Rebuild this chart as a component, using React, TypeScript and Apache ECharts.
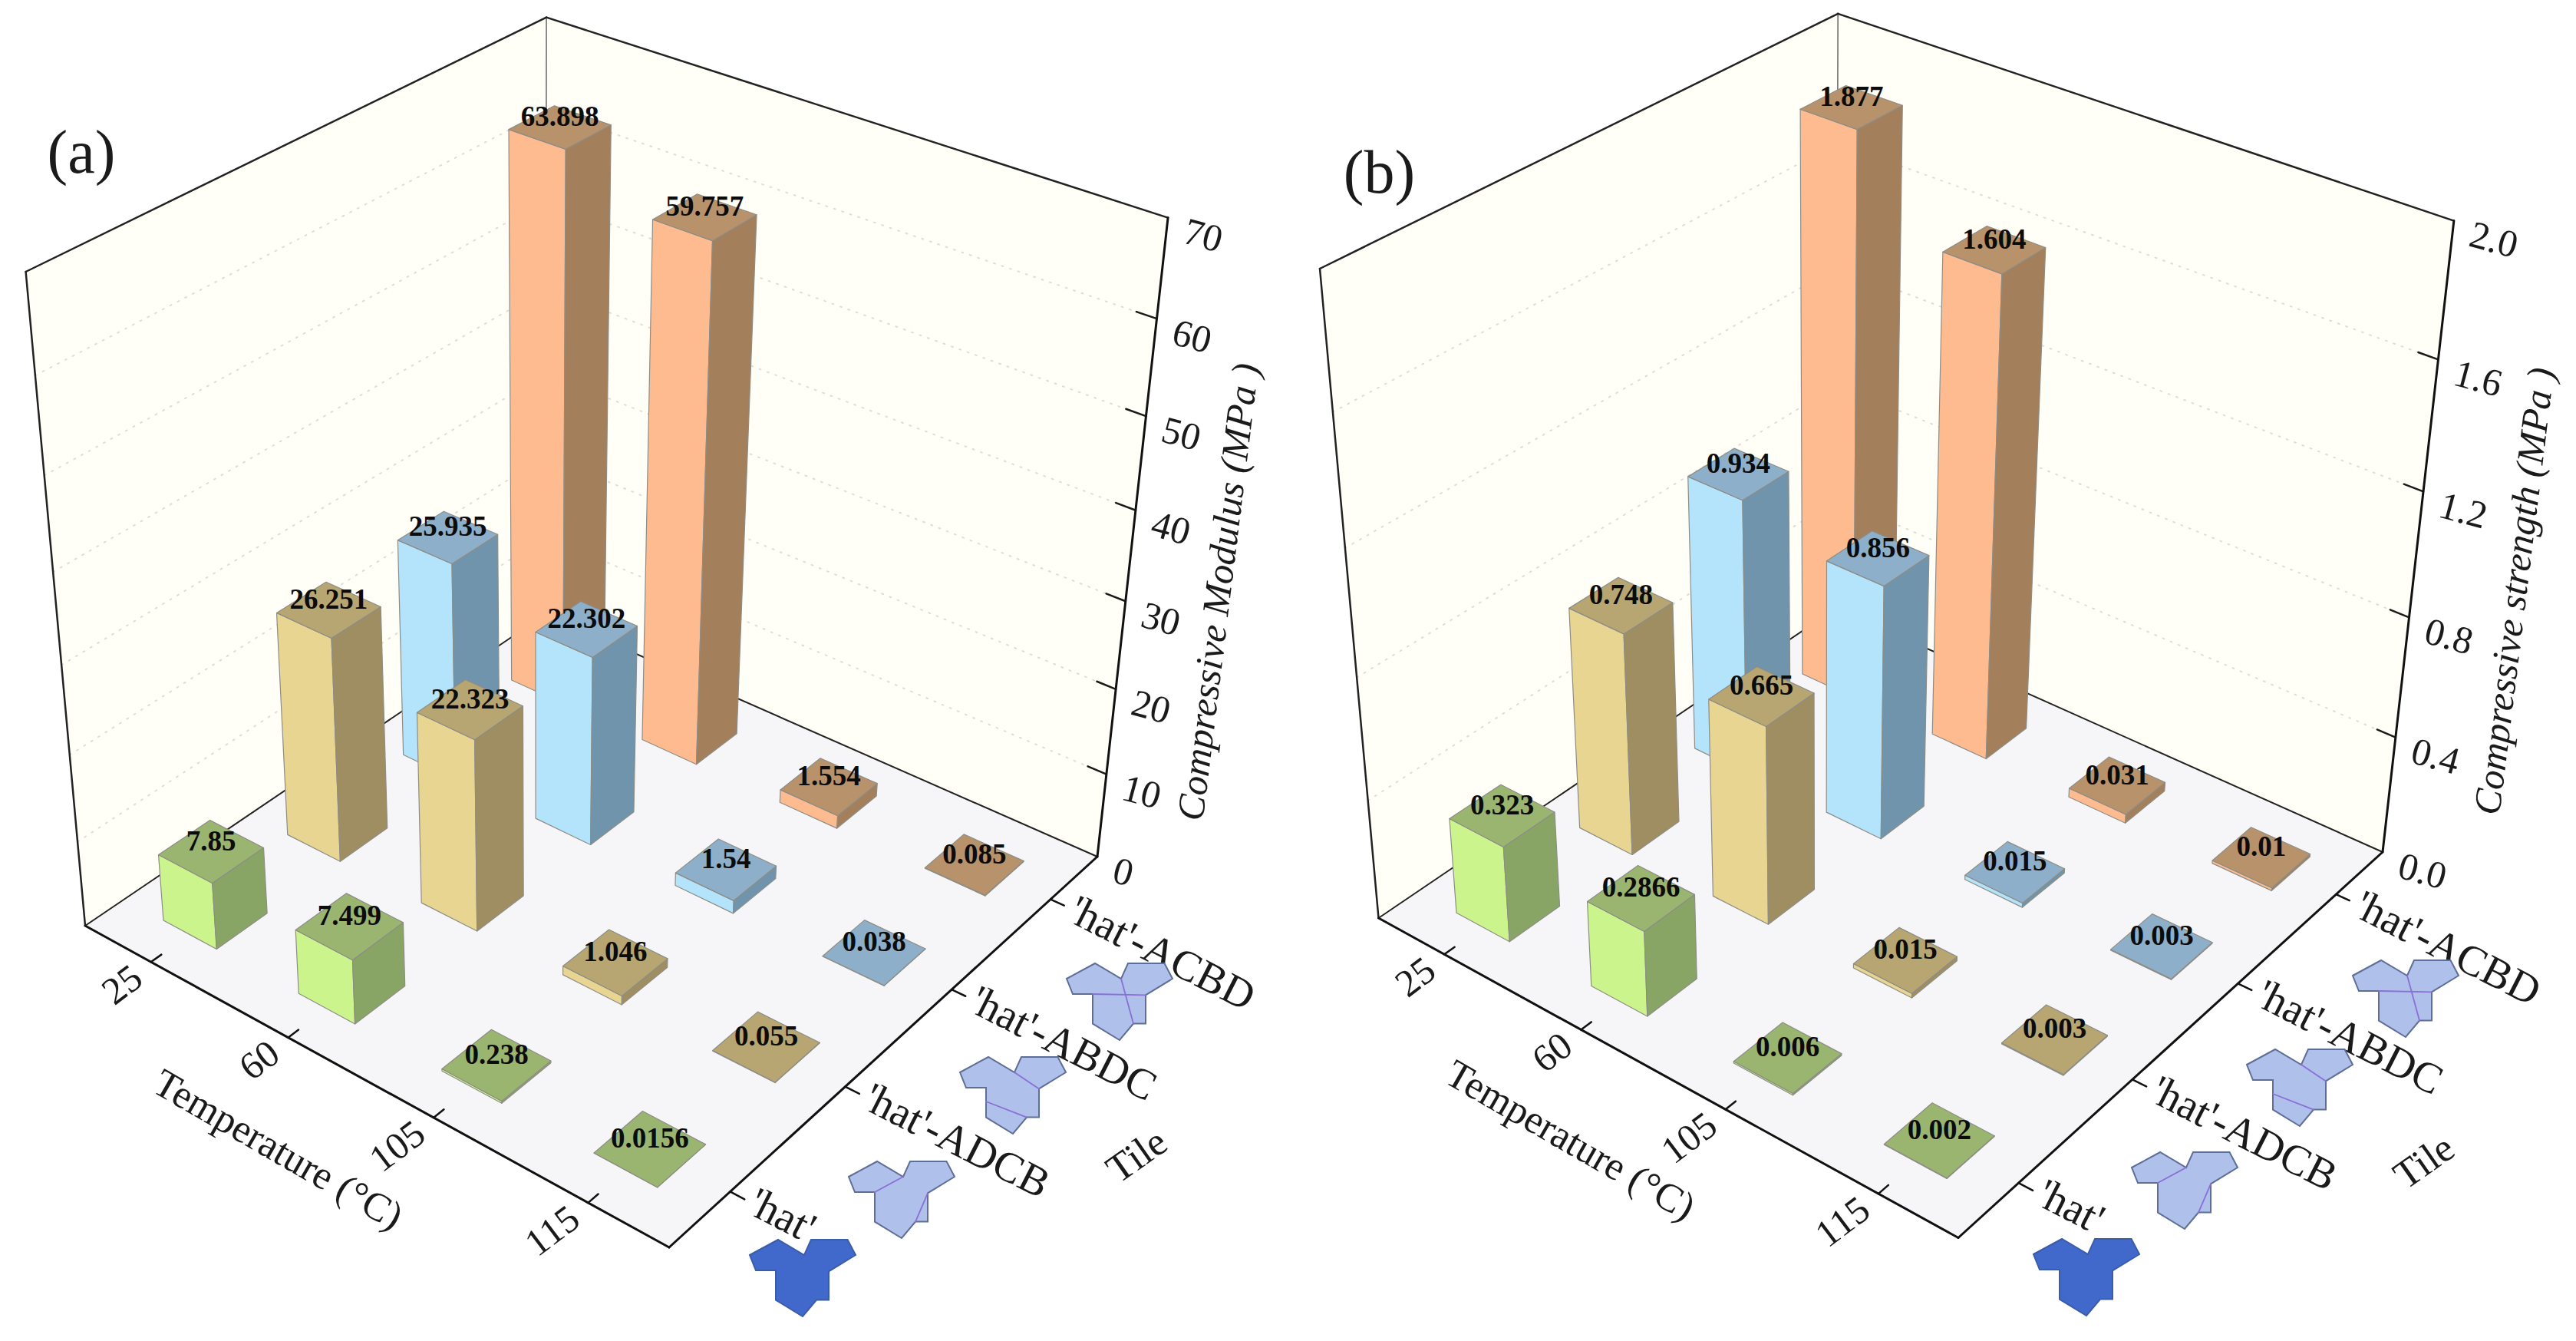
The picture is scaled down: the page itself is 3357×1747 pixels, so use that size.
import React, { useEffect, useRef } from "react";
import * as echarts from "echarts";

const temperatures = ["25", "60", "105", "115"];
const tiles = ["'hat'", "'hat'-ADCB", "'hat'-ABDC", "'hat'-ACBD"];

const modulusHat = [7.85, 7.499, 0.238, 0.0156];
const modulusAdcb = [26.251, 22.323, 1.046, 0.055];
const modulusAbdc = [25.935, 22.302, 1.54, 0.038];
const modulusAcbd = [63.898, 59.757, 1.554, 0.085];

const strengthHat = [0.323, 0.2866, 0.006, 0.002];
const strengthAdcb = [0.748, 0.665, 0.015, 0.003];
const strengthAbdc = [0.934, 0.856, 0.015, 0.003];
const strengthAcbd = [1.877, 1.604, 0.031, 0.01];

const modulusTicks = ["0", "10", "20", "30", "40", "50", "60", "70"];
const strengthTicks = ["0.0", "0.4", "0.8", "1.2", "1.6", "2.0"];

const SERIF = "'Liberation Serif', 'Times New Roman', serif";
const FACE_LIGHT = ["#CBF58C", "#E8D591", "#B3E4FB", "#FFBB90"];
const FACE_DARK = ["#89A566", "#A08E63", "#7094AB", "#A47F5B"];
const FACE_TOP = ["#9AB570", "#B7A672", "#8EAFC9", "#B8926A"];
const HALF = 0.05;

type P = [number, number];
type Layout = {
  A: P; B: P; C: P; D: P; Ap: P; Cp: P;
  letter: string; letterAt: P;
  zTitle: string; zTitleAt: P;
  xTitleAt: P; tileTitleAt: P;
  icons: P[];
  zMax: number; zTicks: string[];
  rows: number[][];
};

const layoutA: Layout = {
  A: [111, 1206], B: [872, 1625], C: [1430, 1116], D: [711, 800], Ap: [33.6, 354], Cp: [1522, 284],
  letter: "(a)", letterAt: [106, 198],
  zTitle: "Compressive Modulus (MPa )", zTitleAt: [1587, 771],
  xTitleAt: [363, 1497], tileTitleAt: [1481, 1505],
  icons: [[1046, 1665], [1175, 1563], [1320, 1427], [1459, 1305]],
  zMax: 70, zTicks: modulusTicks,
  rows: [modulusHat, modulusAdcb, modulusAbdc, modulusAcbd],
};
const layoutB: Layout = {
  A: [1796.5, 1196], B: [2552, 1612.5], C: [3105, 1110], D: [2393, 792], Ap: [1720, 350], Cp: [3198.5, 282],
  letter: "(b)", letterAt: [1797.5, 224],
  zTitle: "Compressive strength (MPa )", zTitleAt: [3276, 770],
  xTitleAt: [2047, 1485], tileTitleAt: [3158.6, 1513],
  icons: [[2719, 1664], [2847, 1551], [2997, 1417], [3135, 1301]],
  zMax: 2, zTicks: strengthTicks,
  rows: [strengthHat, strengthAdcb, strengthAbdc, strengthAcbd],
};

// Hat outline around its centre, with the seams of each rearranged tile.
const HAT: P[] = [[-69, -30], [-32, -50], [2, -30], [11, -50], [58.5, -50], [69, -30], [34, -8.6], [34, 28.6], [18, 28.6], [0, 50], [-35, 28.6], [-35, -10], [-61, -10]];
const SEAMS: P[][][] = [
  [],
  [[HAT[11], HAT[2]], [HAT[6], HAT[8]]],
  [[HAT[2], HAT[6]], [[-35, 8], HAT[8]]],
  [[HAT[2], HAT[8]], [[-35, -10], HAT[6]]],
];

function makeProjector(l: Layout) {
  const { A, B, C, D, Ap, Cp } = l;
  const dx1 = B[0] - C[0], dx2 = D[0] - C[0], dx3 = A[0] - B[0] + C[0] - D[0];
  const dy1 = B[1] - C[1], dy2 = D[1] - C[1], dy3 = A[1] - B[1] + C[1] - D[1];
  const den = dx1 * dy2 - dx2 * dy1;
  const g = (dx3 * dy2 - dx2 * dy3) / den;
  const h = (dx1 * dy3 - dx3 * dy1) / den;
  const ax = B[0] - A[0] + g * B[0], bx = D[0] - A[0] + h * D[0];
  const ay = B[1] - A[1] + g * B[1], by = D[1] - A[1] + h * D[1];
  const sL = (A[0] - Ap[0]) / (A[1] - Ap[1]);
  const sR = (C[0] - Cp[0]) / (C[1] - Cp[1]);
  const vy = (C[0] - sR * C[1] - A[0] + sL * A[1]) / (sL - sR);
  const vx = A[0] + sL * (vy - A[1]);
  const i = (Ap[1] - A[1]) / (vy - Ap[1]);
  const cx = i * vx, cy = i * vy;
  return (x: number, y: number, z: number): P => {
    const w = 1 + g * x + h * y + i * z;
    return [(A[0] + ax * x + bx * y + cx * z) / w, (A[1] + ay * x + by * y + cy * z) / w];
  };
}

const rad = (d: number) => (d * Math.PI) / 180;
const mid = (k: number, n: number) => (k + 0.5) / n;

function label(text: string, at: P, size: number, rot: number, align = "center", extra: any = {}) {
  return {
    type: "text", x: at[0], y: at[1], rotation: rad(rot), silent: true,
    style: { text, x: 0, y: 0, fill: "#1a1a1a", font: `${extra.style || ""} ${extra.weight || ""} ${size}px ${SERIF}`, textAlign: align, textVerticalAlign: "middle" },
  };
}

function frameSeries(l: Layout) {
  const pr = makeProjector(l);
  return {
    type: "custom", coordinateSystem: "cartesian2d", z: 1, clip: false, silent: true,
    data: [[0, 0]],
    renderItem: (_: any, api: any) => {
      const c = (x: number, y: number, z: number) => api.coord(pr(x, y, z));
      const poly = (pts: P[], fill: string) => ({ type: "polygon", shape: { points: pts }, style: { fill, stroke: "none" } });
      const seg = (a: P, b: P, color: string, w: number, dash?: number[]) => ({
        type: "line", shape: { x1: a[0], y1: a[1], x2: b[0], y2: b[1] },
        style: { stroke: color, lineWidth: w, lineDash: dash, lineCap: "round" },
      });
      const kids: any[] = [
        poly([c(0, 0, 0), c(0, 1, 0), c(0, 1, 1), c(0, 0, 1)], "#FFFEF7"),
        poly([c(0, 1, 0), c(1, 1, 0), c(1, 1, 1), c(0, 1, 1)], "#FFFEF7"),
        poly([c(0, 0, 0), c(1, 0, 0), c(1, 1, 0), c(0, 1, 0)], "#F6F6F8"),
      ];
      const n = l.zTicks.length - 1;
      l.zTicks.forEach((t, k) => {
        const z = k / n;
        if (k > 0 && k < n) {
          kids.push(seg(c(0, 0, z), c(0, 1, z), "#DEDED6", 2, [2, 9]));
          kids.push(seg(c(0, 1, z), c(1, 1, z), "#DEDED6", 2, [2, 9]));
          kids.push(seg(c(1, 1, z), c(0.97, 1, z), "#1a1a1a", 2.5));
        }
        const p = c(1, 1, z);
        kids.push(label(t, [p[0] + 22, p[1] + 16], 50, -15, "left"));
      });
      kids.push(seg(c(0, 0, 0), c(0, 1, 0), "#222", 2));
      kids.push(seg(c(0, 1, 0), c(1, 1, 0), "#222", 2));
      kids.push(seg(c(0, 1, 0), c(0, 1, 1), "#666", 1.5));
      kids.push(seg(c(0, 0, 1), c(0, 1, 1), "#222", 2.5));
      kids.push(seg(c(0, 1, 1), c(1, 1, 1), "#222", 2.5));
      kids.push(seg(c(0, 0, 0), c(0, 0, 1), "#222", 2.5));
      kids.push(seg(c(1, 1, 0), c(1, 1, 1), "#111", 3));
      kids.push(seg(c(0, 0, 0), c(1, 0, 0), "#111", 3));
      kids.push(seg(c(1, 0, 0), c(1, 1, 0), "#111", 3));
      temperatures.forEach((t, k) => {
        const x = mid(k, temperatures.length);
        const p = c(x, 0, 0);
        kids.push(seg(p, c(x, 0.02, 0), "#111", 2.5));
        kids.push(label(t, [p[0] - 18, p[1] + 14], 50, 37, "right"));
      });
      tiles.forEach((t, k) => {
        const y = mid(k, tiles.length);
        const p = c(1, y, 0);
        kids.push(seg(p, c(1.022, y, 0), "#111", 2.5));
        kids.push(label(t, [p[0] + 29, p[1] + 10], 56, -27, "left"));
      });
      tiles.forEach((_t, k) => {
        const o = l.icons[k];
        const at = (q: P): P => api.coord([o[0] + q[0], o[1] + q[1]]);
        kids.push({
          type: "polygon", shape: { points: HAT.map(at) },
          style: k === 0
            ? { fill: "#4169CC", stroke: "#3B5CA8", lineWidth: 2 }
            : { fill: "#AFC0EA", stroke: "#5E6E96", lineWidth: 2 },
        });
        SEAMS[k].forEach(([a, b]) => kids.push(seg(at(a), at(b), "#8A6FD6", 1.8)));
      });
      kids.push(label(l.zTitle, l.zTitleAt, 50, 83, "center", { style: "italic" }));
      kids.push(label("Temperature (°C)", l.xTitleAt, 52, -30));
      kids.push(label("Tile", l.tileTitleAt, 52, 35));
      kids.push(label(l.letter, l.letterAt, 80, 0));
      return { type: "group", silent: true, children: kids };
    },
  };
}

function barSeries(l: Layout) {
  const pr = makeProjector(l);
  const data: number[][] = [];
  for (let j = tiles.length - 1; j >= 0; j--) {
    for (let i = 0; i < temperatures.length; i++) data.push([i, j, l.rows[j][i]]);
  }
  return {
    type: "custom", coordinateSystem: "cartesian2d", z: 2, clip: false, silent: true,
    data,
    encode: { x: 0, y: 1 },
    renderItem: (_: any, api: any) => {
      const i = api.value(0), j = api.value(1), v = api.value(2);
      const x = mid(i, temperatures.length), y = mid(j, tiles.length), z = v / l.zMax;
      const c = (a: number, b: number, h: number) => api.coord(pr(a, b, h));
      const L = [x - HALF, y - HALF], F = [x + HALF, y - HALF], R = [x + HALF, y + HALF], K = [x - HALF, y + HALF];
      const stroke = "#8d8d86";
      const face = (pts: P[], fill: string) => ({ type: "polygon", shape: { points: pts }, style: { fill, stroke, lineWidth: 1.2, lineJoin: "round" } });
      const centre = c(x, y, z);
      return {
        type: "group", silent: true,
        children: [
          face([c(L[0], L[1], 0), c(F[0], F[1], 0), c(F[0], F[1], z), c(L[0], L[1], z)], FACE_LIGHT[j]),
          face([c(F[0], F[1], 0), c(R[0], R[1], 0), c(R[0], R[1], z), c(F[0], F[1], z)], FACE_DARK[j]),
          face([c(L[0], L[1], z), c(F[0], F[1], z), c(R[0], R[1], z), c(K[0], K[1], z)], FACE_TOP[j]),
          {
            type: "text", x: centre[0], y: centre[1] - 14, silent: true,
            style: { text: String(v), x: 0, y: 0, fill: "#0c0c0c", font: `bold 37px ${SERIF}`, textAlign: "center", textVerticalAlign: "middle" },
          },
        ],
      };
    },
  };
}

export default function App() {
  const ref = useRef<HTMLDivElement>(null);
  useEffect(() => {
    const chart = echarts.init(ref.current!, undefined, { renderer: "svg" });
    chart.setOption({
      animation: false,
      backgroundColor: "#ffffff",
      grid: { left: 0, right: 0, top: 0, bottom: 0 },
      xAxis: { type: "value", min: 0, max: 3357, show: false },
      yAxis: { type: "value", min: 0, max: 1747, inverse: true, show: false },
      series: [frameSeries(layoutA), barSeries(layoutA), frameSeries(layoutB), barSeries(layoutB)],
    });
    return () => chart.dispose();
  }, []);
  return <div ref={ref} style={{ position: "absolute", left: 0, top: 0, width: 3357, height: 1747 }} />;
}
